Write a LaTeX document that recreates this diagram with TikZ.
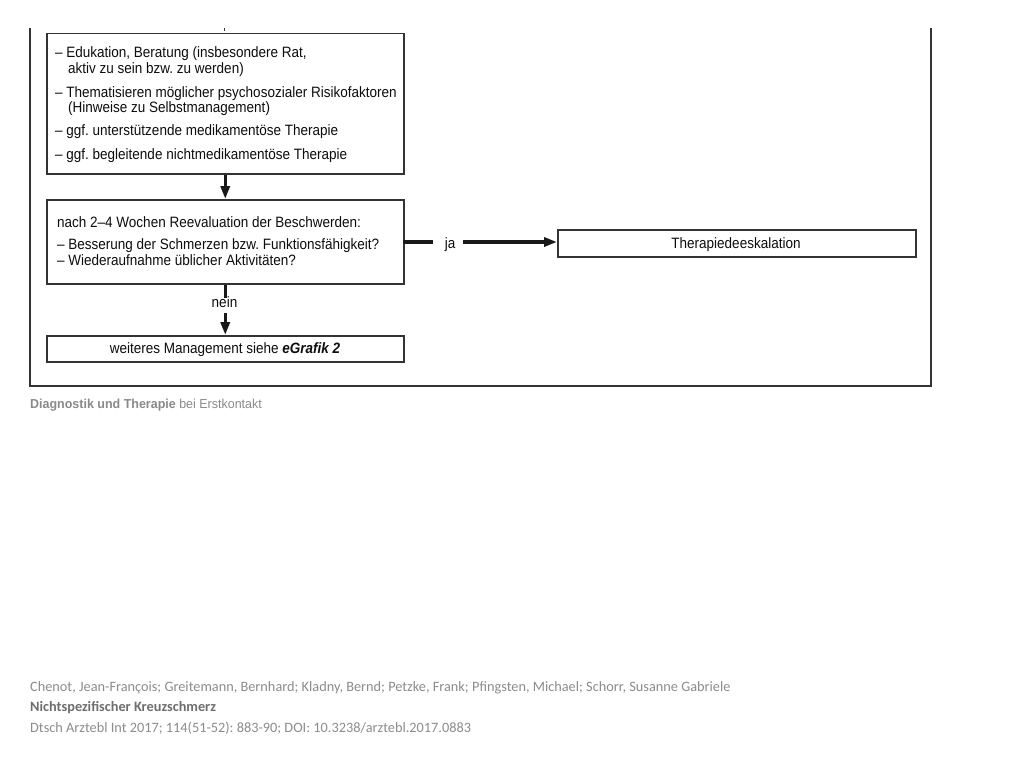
\documentclass[tikz,border=0pt]{standalone}
\usepackage{fontspec}
\setmainfont{Liberation Sans}
\newfontfamily\cond[FakeStretch=0.9]{Liberation Sans}
\newfontfamily\capfont[FakeStretch=0.96]{Liberation Sans}
\newfontfamily\foot{Carlito}
\usetikzlibrary{arrows.meta}
\definecolor{frame}{HTML}{333333}
\definecolor{capgray}{HTML}{8A8A8A}
\definecolor{footgray}{HTML}{8C8C8C}
\definecolor{footdark}{HTML}{6E6E6E}
\tikzset{
  box/.style={draw=frame, line width=1.5pt, fill=white, inner sep=0pt, anchor=north west},
  ln/.style={anchor=base west, inner sep=0pt, font=\cond\fontsize{15}{16}\selectfont, text=black!95},
  lnc/.style={anchor=base, inner sep=0pt, font=\cond\fontsize{15}{16}\selectfont, text=black!95},
  conn/.style={line width=3.2pt, black!90},
  arr/.style={conn, -{Triangle[length=13pt,width=9pt]}},
  framel/.style={line width=2pt, frame},
}
\begin{document}
\frenchspacing
\begin{tikzpicture}[x=1pt,y=-1pt]
\useasboundingbox (0,0) rectangle (1024,768);
\fill[white] (0,0) rectangle (1024,768);
% outer frame (cut at the top)
\draw[framel] (30,28) -- (30,386) -- (931,386) -- (931,28);
\draw[line width=1.2pt, black!80] (224.5,28) -- (224.5,31);
% boxes
\node[box, minimum width=357pt, minimum height=140pt] (b1) at (46,33) {};
\node[box, minimum width=357pt, minimum height=84pt] (b2) at (46,199) {};
\node[box, minimum width=357pt, minimum height=26pt] (b3) at (46,335) {};
\node[box, minimum width=358pt, minimum height=27pt] (b4) at (557,229) {};
% box 1 text
\node[ln] (t11) at (55,58) {– Edukation, Beratung (insbesondere Rat,};
\node[ln] (t12) at (68,73) {aktiv zu sein bzw. zu werden)};
\node[ln] (t13) at (55,97) {– Thematisieren möglicher psychosozialer Risikofaktoren};
\node[ln] (t14) at (68,112) {(Hinweise zu Selbstmanagement)};
\node[ln] (t15) at (55,135) {– ggf. unterstützende medikamentöse Therapie};
\node[ln] (t16) at (55,159) {– ggf. begleitende nichtmedikamentöse Therapie};
% box 2 text
\node[ln] (t21) at (57,227) {nach 2–4 Wochen Reevaluation der Beschwerden:};
\node[ln] (t22) at (57,249) {– Besserung der Schmerzen bzw. Funktionsfähigkeit?};
\node[ln] (t23) at (57,265) {– Wiederaufnahme üblicher Aktivitäten?};
% box 3 and 4 text
\node[lnc] (t31) at (225,353) {weiteres Management siehe \textbf{\textit{eGrafik 2}}};
\node[lnc] (t41) at (736,248) {Therapiedeeskalation};
% labels
\node[lnc] (nein) at (224.5,307) {nein};
\node[lnc] (ja) at (450,248) {ja};
% connectors
\draw[arr] (b1.south) -- (b2.north);
\draw[conn] (b2.south) -- ++(0,13) coordinate (n1);
\path (b3.north) ++(0,-22) coordinate (n2);
\draw[arr] (n2) -- (b3.north);
\coordinate (j1) at (403,242);
\coordinate (j2) at (433,242);
\coordinate (j3) at (463,242);
\draw[conn] (j1) -- (j2);
\draw[arr] (j3) -- (b4.west |- j3);
% caption
\node[anchor=base west, inner sep=0pt, text=capgray, font=\capfont\fontsize{13}{14}\selectfont] (cap) at (30,408) {\textbf{Diagnostik und Therapie} bei Erstkontakt};
% footer
\node[anchor=base west, inner sep=0pt, text=footgray, font=\foot\fontsize{14.3}{16}\selectfont] (f1) at (30,691) {Chenot, Jean-François; Greitemann, Bernhard; Kladny, Bernd; Petzke, Frank; Pfingsten, Michael; Schorr, Susanne Gabriele};
\node[anchor=base west, inner sep=0pt, text=footdark, font=\foot\bfseries\fontsize{14.3}{16}\selectfont] (f2) at (30,711) {Nichtspezifischer Kreuzschmerz};
\node[anchor=base west, inner sep=0pt, text=footgray, font=\foot\fontsize{14.3}{16}\selectfont] (f3) at (30,732) {Dtsch Arztebl Int 2017; 114(51-52): 883-90; DOI: 10.3238/arztebl.2017.0883};
\end{tikzpicture}
\end{document}
